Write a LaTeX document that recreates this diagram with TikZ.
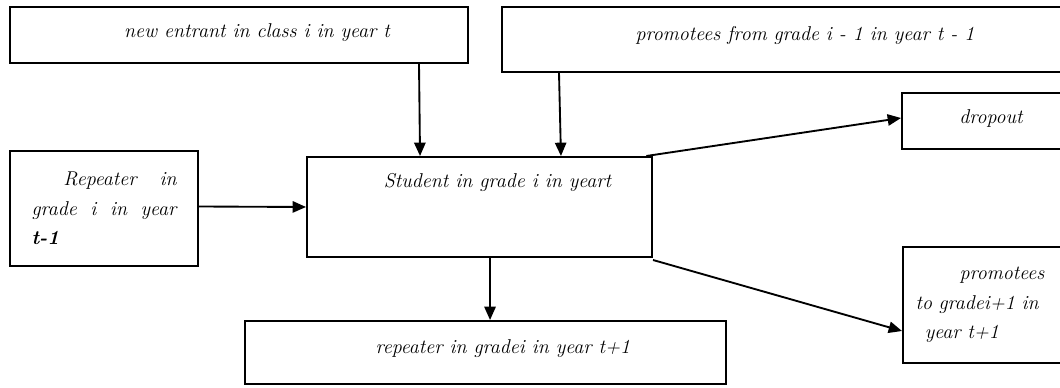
\documentclass[tikz,border=0pt]{standalone}
\usepackage{tikz}
\usetikzlibrary{arrows.meta, positioning}

\tikzset{
	box/.style = {draw, line width=1.5pt, inner sep=0pt, align=center},
}

\begin{document}
\begin{tikzpicture}[->,
				>={Triangle[length=10pt,width=8.5pt]},
				x=0.75pt, y=-0.75pt,
				line width=1.4pt,
				font=\fontsize{15}{22}\selectfont\itshape]
				\useasboundingbox (0,0) rectangle (1060,388);
				\node at (239,35) (entrant) [box, minimum width=343.5pt, minimum height=42pt, text depth=6pt] {\hspace*{27pt}new entrant in class i in year t};
				\node at (801,39.5) (promfrom) [box, minimum width=448.5pt, minimum height=48.75pt, text depth=9pt] {\hspace*{6pt}promotees from grade i - 1 in year t - 1};
				\node at (991,121) (dropout) [box, minimum width=133.5pt, minimum height=42pt, text depth=7pt] {dropout};
				\node at (104,208.5) (repprev) [box, minimum width=141pt, minimum height=86.25pt, text width=108.75pt, align=left] {\hspace*{24pt}Repeater \hfill in\\ grade \hfill i \hfill in \hfill year\\ \textbf{t-1}};
				\node at (479.5,207) (student) [box, minimum width=258.75pt, minimum height=75pt, text depth=40pt] {\hspace*{27pt}Student in grade i in yeart};
				\node at (485.5,352.5) (repnext) [box, minimum width=360.75pt, minimum height=47.25pt, text depth=9pt] {\hspace*{26pt}repeater in gradei in year t+1};
				\node at (985.5,305) (promnext) [box, minimum width=123.75pt, minimum height=87pt, text width=105pt, align=left] {\hspace*{33pt}promotees\\ to gradei+1 in\\ \hspace*{7pt}year t+1};
				\draw [->, black] ([xshift=135pt]entrant.south) -- ([xshift=-44.6pt]student.north);
				\draw [->, black] ([xshift=-181.5pt]promfrom.south) -- ([xshift=61.1pt]student.north);
				\draw [->, black] ([yshift=1.5pt]repprev.east) -- (student.west);
				\draw [->, black] ([xshift=-5pt]student.north east) -- ([yshift=2.25pt]dropout.west);
				\draw [->, black] ([yshift=-1.5pt]student.south east) -- ([yshift=-19.5pt]promnext.west);
				\draw [->, black] ([xshift=7.9pt]student.south) -- ([xshift=3.4pt]repnext.north);
			\end{tikzpicture}
\end{document}
